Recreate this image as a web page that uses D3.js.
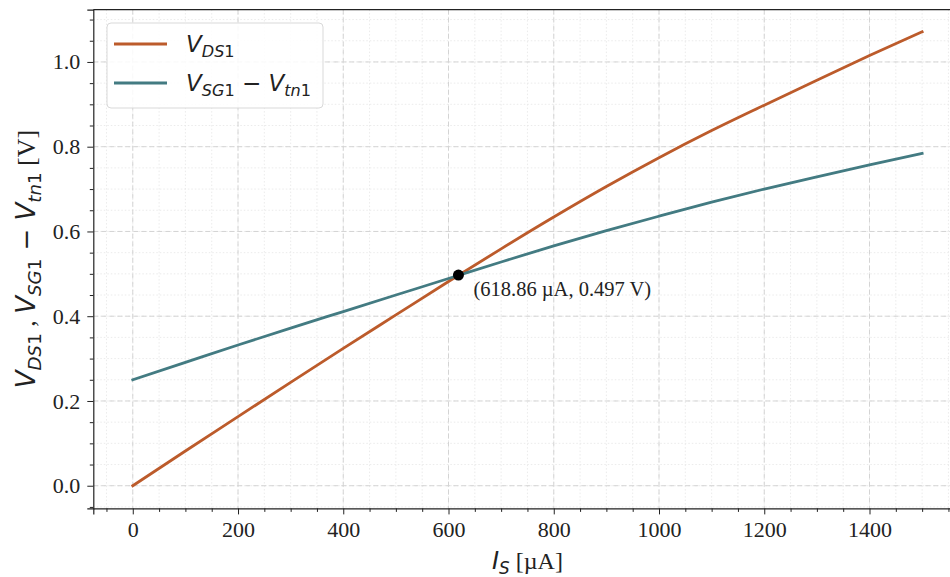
<!DOCTYPE html>
<html>
<head>
<meta charset="utf-8">
<script src="https://cdn.jsdelivr.net/npm/d3@7/dist/d3.min.js"></script>
<style>
  html, body { margin: 0; padding: 0; background: #fff; }
  svg { display: block; }
</style>
</head>
<body>
<svg id="chart" width="950" height="577"></svg>
<script>
// ---- data ----
const currents = [0, 100, 200, 300, 400, 500, 600, 700, 800, 900, 1000, 1100, 1200, 1300, 1400, 1500]; // µA
const vds1 = [0.000, 0.082, 0.163, 0.244, 0.324, 0.403, 0.482, 0.559, 0.634, 0.706, 0.774, 0.838, 0.898, 0.957, 1.015, 1.071];
const vov1 = [0.250, 0.291, 0.332, 0.372, 0.411, 0.450, 0.489, 0.528, 0.566, 0.602, 0.636, 0.669, 0.700, 0.729, 0.757, 0.784];
const crossing = { x: 618.86, y: 0.497 };
const xTicks = [0, 200, 400, 600, 800, 1000, 1200, 1400];
const yTicks = [0.0, 0.2, 0.4, 0.6, 0.8, 1.0];
const xMinor = d3.range(-50, 1576, 50);
const yMinor = d3.range(-0.05, 1.12, 0.05).map(v => +v.toFixed(2));
const seriesColors = ["#bc5b2b", "#437b82"];

(function () {
const svg = d3.select("#chart");
const pL = 93.3, pR = 961.6, pT = 9.6, pB = 508.4;
const x = d3.scaleLinear().domain([-75, 1575]).range([pL, pR]);
const y = d3.scaleLinear().domain([-0.0535, 1.1235]).range([pB, pT]);

const serif = "'Liberation Serif', 'DejaVu Serif', serif";
const sans = "'DejaVu Sans', sans-serif";

svg.append("defs").append("clipPath").attr("id", "clip").append("rect")
  .attr("x", pL).attr("y", pT).attr("width", pR - pL).attr("height", pB - pT);

const grid = svg.append("g").attr("clip-path", "url(#clip)");
grid.selectAll(".mgx").data(xMinor).join("line")
  .attr("x1", d => x(d)).attr("x2", d => x(d)).attr("y1", pT).attr("y2", pB)
  .attr("stroke", "#e6e6e6").attr("stroke-width", 0.8).attr("stroke-dasharray", "1.5,2");
grid.selectAll(".mgy").data(yMinor).join("line")
  .attr("y1", d => y(d)).attr("y2", d => y(d)).attr("x1", pL).attr("x2", pR)
  .attr("stroke", "#e6e6e6").attr("stroke-width", 0.8).attr("stroke-dasharray", "1.5,2");
grid.selectAll(".Mgx").data(xTicks).join("line")
  .attr("x1", d => x(d)).attr("x2", d => x(d)).attr("y1", pT).attr("y2", pB)
  .attr("stroke", "#d4d4d4").attr("stroke-width", 1).attr("stroke-dasharray", "5,3");
grid.selectAll(".Mgy").data(yTicks).join("line")
  .attr("y1", d => y(d)).attr("y2", d => y(d)).attr("x1", pL).attr("x2", pR)
  .attr("stroke", "#d4d4d4").attr("stroke-width", 1).attr("stroke-dasharray", "5,3");

const line = d3.line().x(d => x(d[0])).y(d => y(d[1])).curve(d3.curveMonotoneX);
[vds1, vov1].forEach((vals, i) => {
  svg.append("path")
    .datum(currents.map((c, j) => [c, vals[j]]))
    .attr("d", line)
    .attr("fill", "none")
    .attr("stroke", seriesColors[i])
    .attr("stroke-width", 2.8)
    .attr("stroke-linecap", "square");
});

svg.append("circle").attr("cx", x(crossing.x)).attr("cy", y(crossing.y)).attr("r", 5.5).attr("fill", "#000");
svg.append("text")
  .attr("x", x(crossing.x) + 15).attr("y", y(crossing.y) + 21)
  .attr("font-family", serif).attr("font-size", 20.5).attr("fill", "#222")
  .text(`(${crossing.x.toFixed(2)} µA, ${crossing.y.toFixed(3)} V)`);

const xAxis = svg.append("g").attr("transform", `translate(0,${pB})`)
  .call(d3.axisBottom(x).tickValues(xTicks).tickSize(6).tickPadding(7).tickFormat(d3.format("d")));
svg.append("g").attr("transform", `translate(0,${pB})`)
  .call(d3.axisBottom(x).tickValues(xMinor.filter(v => v % 200 !== 0)).tickSize(3.5).tickFormat(""))
  .call(g => g.select(".domain").remove());
const yAxis = svg.append("g").attr("transform", `translate(${pL},0)`)
  .call(d3.axisLeft(y).tickValues(yTicks).tickSize(6).tickPadding(7).tickFormat(d3.format(".1f")));
svg.append("g").attr("transform", `translate(${pL},0)`)
  .call(d3.axisLeft(y).tickValues(yMinor.filter(v => Math.round(v * 100) % 20 !== 0)).tickSize(3.5).tickFormat(""))
  .call(g => g.select(".domain").remove());

svg.selectAll(".tick line").attr("stroke", "#222").attr("stroke-width", 1);
[xAxis, yAxis].forEach(g => {
  g.select(".domain").attr("stroke", "#222").attr("stroke-width", 1.2);
  g.selectAll(".tick text").attr("font-family", serif).attr("font-size", 22).attr("fill", "#222");
});
svg.append("line").attr("x1", pL).attr("x2", pR).attr("y1", pT).attr("y2", pT)
  .attr("stroke", "#222").attr("stroke-width", 1.2);
svg.append("line").attr("x1", pR).attr("x2", pR).attr("y1", pT).attr("y2", pB)
  .attr("stroke", "#222").attr("stroke-width", 1.2);

// mathtext-like rendering: letters italic, digits upright, subscripts lowered
function mathText(sel, parts, size) {
  let level = 0;
  const shift = size * 0.22;
  parts.forEach(p => {
    const lvl = p.k === "sub" ? 1 : 0;
    const chunks = (p.k === "sub" || p.k === "it") ? p.t.match(/\d+|\D+/g) : [p.t];
    chunks.forEach((c, ci) => {
      const t = sel.append("tspan").text(c);
      const isDigit = /^\d+$/.test(c);
      if (p.k === "serif") t.attr("font-family", serif);
      else t.attr("font-family", sans);
      if ((p.k === "it" || p.k === "sub") && !isDigit) t.attr("font-style", "italic");
      if (p.k === "sub") t.attr("font-size", size * 0.7);
      if (ci === 0 && lvl !== level) t.attr("dy", (lvl - level) * shift);
    });
    level = lvl;
  });
}

const xl = svg.append("text").attr("x", (pL + pR) / 2).attr("y", 569)
  .attr("text-anchor", "middle").attr("font-size", 24).attr("fill", "#222");
mathText(xl, [{t: "I", k: "it"}, {t: "S", k: "sub"}, {t: "  [µA]", k: "serif"}], 24);

const yl = svg.append("text").attr("transform", `translate(35,${(pT + pB) / 2}) rotate(-90)`)
  .attr("text-anchor", "middle").attr("font-size", 26).attr("fill", "#222");
mathText(yl, [
  {t: "V", k: "it"}, {t: "DS1", k: "sub"},
  {t: " , ", k: "serif"},
  {t: "V", k: "it"}, {t: "SG1", k: "sub"},
  {t: " − ", k: "up"},
  {t: "V", k: "it"}, {t: "tn1", k: "sub"},
  {t: "  [V]", k: "serif"}
], 26);

const lg = svg.append("g");
lg.append("rect").attr("x", 107).attr("y", 23).attr("width", 216).attr("height", 85)
  .attr("rx", 4).attr("fill", "#fff").attr("fill-opacity", 0.85)
  .attr("stroke", "#d9d9d9").attr("stroke-width", 1);
const legendItems = [
  [{t: "V", k: "it"}, {t: "DS1", k: "sub"}],
  [{t: "V", k: "it"}, {t: "SG1", k: "sub"}, {t: " − ", k: "up"}, {t: "V", k: "it"}, {t: "tn1", k: "sub"}]
];
legendItems.forEach((parts, i) => {
  const cy = 44 + i * 39;
  lg.append("line").attr("x1", 114).attr("x2", 167).attr("y1", cy).attr("y2", cy)
    .attr("stroke", seriesColors[i]).attr("stroke-width", 2.8);
  const t = lg.append("text").attr("x", 186).attr("y", cy + 8).attr("font-size", 23).attr("fill", "#222");
  mathText(t, parts, 23);
});
})();
</script>
</body>
</html>
